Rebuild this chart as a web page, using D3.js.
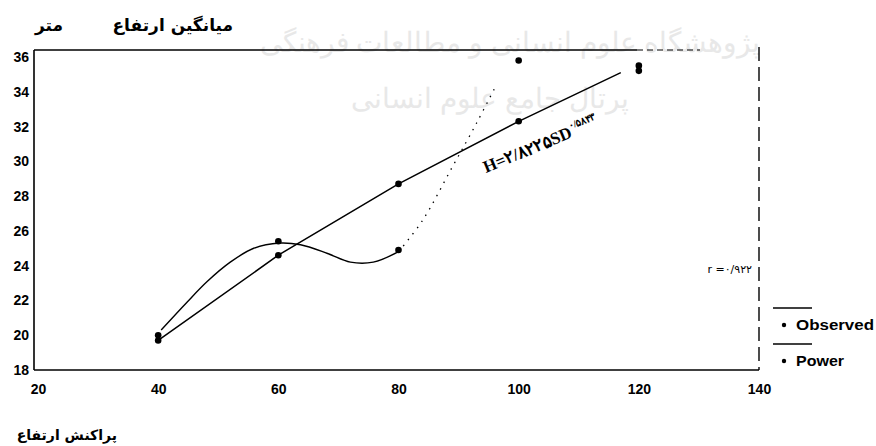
<!DOCTYPE html>
<html>
<head>
<meta charset="utf-8">
<script src="https://cdn.jsdelivr.net/npm/d3@7"></script>
<style>
  body { margin: 0; background: #fff; }
  text { font-family: "Liberation Sans", Arial, sans-serif; }
</style>
</head>
<body>
<div id="chart"></div>
<script>
// tick labels
const xTicks = [20, 40, 60, 80, 100, 120, 140];
const yTicks = [18, 20, 22, 24, 26, 28, 30, 32, 34, 36];

// observed points (SD, H)
const obsX = [40, 60, 80, 100, 120];
const obsY = [20.0, 25.4, 24.9, 35.8, 35.5];
// observed curve as drawn (solid part, then dotted part)
const obsCurveX = [40.5, 44.8, 48.2, 52, 55.9, 60.2, 63.7, 68.2, 72, 75.8, 80];
const obsCurveY = [20.3, 21.9, 23.1, 24.2, 25.0, 25.3, 25.2, 24.7, 24.2, 24.2, 24.8];
const obsDotX = [80, 84, 89, 93, 96];
const obsDotY = [24.8, 26.6, 29.7, 32.2, 34.2];

// power fit points
const powX = [40, 60, 80, 100, 120];
const powY = [19.7, 24.6, 28.7, 32.3, 35.2];
const powLineX = [40, 60, 80, 100, 117];
const powLineY = [19.7, 24.6, 28.7, 32.3, 35.1];

const W = 876, H = 446;
const svg = d3.select('#chart').append('svg')
  .attr('width', W).attr('height', H);

// faint watermark
const wm = svg.append('g').attr('fill', '#e8e8e8').attr('font-size', 28)
  .attr('text-anchor', 'middle').style('font-family', 'DejaVu Sans');
wm.append('text').attr('x', 510).attr('y', 52).text('پژوهشگاه علوم انسانی و مطالعات فرهنگی');
wm.append('text').attr('x', 490).attr('y', 108).text('پرتال جامع علوم انسانی');

const x = d3.scaleLinear().domain([20, 140]).range([38, 759]);
const y = d3.scaleLinear().domain([18, 36.4]).range([370, 50]);

// frame
const fx0 = 34, fx1 = 759, fy0 = 50, fy1 = 370;
const frame = svg.append('g').attr('stroke', '#000').attr('fill', 'none');
frame.append('line').attr('x1', fx0).attr('y1', fy0).attr('x2', fx0).attr('y2', fy1).attr('stroke-width', 1.6);
frame.append('line').attr('x1', fx0).attr('y1', fy1).attr('x2', fx1).attr('y2', fy1).attr('stroke-width', 1.6);
frame.append('line').attr('x1', fx0).attr('y1', fy0).attr('x2', 637).attr('y2', fy0).attr('stroke-width', 1.6);
frame.append('line').attr('x1', 637).attr('y1', fy0).attr('x2', 700).attr('y2', fy0)
  .attr('stroke-width', 1).attr('stroke-dasharray', '6,4');
frame.append('line').attr('x1', fx1).attr('y1', 47).attr('x2', fx1).attr('y2', fy1)
  .attr('stroke-width', 1.4).attr('stroke-dasharray', '14,6');

// axes labels via d3 axes (no tick marks)
const axisY = d3.axisLeft(y).tickValues(yTicks).tickSize(0).tickPadding(5);
const gy = svg.append('g').attr('transform', `translate(${fx0},0)`).call(axisY);
gy.select('.domain').remove();
gy.selectAll('text').attr('font-size', 14).attr('font-weight', 'bold').attr('fill', '#000');

const axisX = d3.axisBottom(x).tickValues(xTicks).tickSize(0).tickPadding(14);
const gx = svg.append('g').attr('transform', `translate(0,${fy1})`).call(axisX);
gx.select('.domain').remove();
gx.selectAll('text').attr('font-size', 14).attr('font-weight', 'bold').attr('fill', '#000');

// lines
const line = d3.line().x(d => x(d[0])).y(d => y(d[1]));
const smooth = d3.line().x(d => x(d[0])).y(d => y(d[1])).curve(d3.curveCatmullRom);

svg.append('path').datum(d3.zip(obsCurveX, obsCurveY))
  .attr('d', smooth).attr('fill', 'none').attr('stroke', '#000').attr('stroke-width', 1.4);
svg.append('path').datum(d3.zip(obsDotX, obsDotY))
  .attr('d', smooth).attr('fill', 'none').attr('stroke', '#000').attr('stroke-width', 1.3)
  .attr('stroke-dasharray', '1.5,6');
svg.append('path').datum(d3.zip(powLineX, powLineY))
  .attr('d', line).attr('fill', 'none').attr('stroke', '#000').attr('stroke-width', 1.5);

// points
svg.append('g').selectAll('circle').data(d3.zip(obsX, obsY)).join('circle')
  .attr('cx', d => x(d[0])).attr('cy', d => y(d[1])).attr('r', 3.3).attr('fill', '#000');
svg.append('g').selectAll('circle').data(d3.zip(powX, powY)).join('circle')
  .attr('cx', d => x(d[0])).attr('cy', d => y(d[1])).attr('r', 3.3).attr('fill', '#000');

// equation
svg.append('text')
  .attr('transform', 'translate(486,173) rotate(-22.5)')
  .attr('font-size', 17).attr('font-weight', 'bold')
  .style('font-family', '"Liberation Serif", "DejaVu Serif", serif')
  .text('H=۲/۸۲۲۵SD')
  .append('tspan').attr('dy', -8).attr('font-size', 10).text('۰/۵۸۴۳');

svg.append('text').attr('x', 752).attr('y', 273).attr('text-anchor', 'end')
  .attr('font-size', 11).style('font-family', 'DejaVu Sans').text('r =۰/۹۲۲');

// titles
svg.append('text').attr('x', 233).attr('y', 31).attr('text-anchor', 'end')
  .attr('font-size', 17).attr('font-weight', 'bold').style('font-family', 'DejaVu Sans')
  .text('میانگین ارتفاع');
svg.append('text').attr('x', 63).attr('y', 31).attr('text-anchor', 'end')
  .attr('font-size', 17).attr('font-weight', 'bold').style('font-family', 'DejaVu Sans')
  .text('متر');
svg.append('text').attr('x', 117).attr('y', 440).attr('text-anchor', 'end')
  .attr('font-size', 14).attr('font-weight', 'bold').style('font-family', 'DejaVu Sans')
  .text('پراکنش ارتفاع');

// legend
const legNames = ['Observed', 'Power'];
const leg = svg.append('g');
legNames.forEach((n, i) => {
  const ly = 308 + i * 36;
  leg.append('line').attr('x1', 773).attr('x2', 812).attr('y1', ly).attr('y2', ly)
    .attr('stroke', '#000').attr('stroke-width', 1.3);
  leg.append('circle').attr('cx', 784).attr('cy', ly + 17).attr('r', 2.2).attr('fill', '#000');
  leg.append('text').attr('x', 796).attr('y', ly + 22).attr('font-size', 14.5)
    .attr('font-weight', 'bold')
    .attr('textLength', i === 0 ? 78 : 48).attr('lengthAdjust', 'spacingAndGlyphs')
    .text(n);
});
</script>
</body>
</html>
